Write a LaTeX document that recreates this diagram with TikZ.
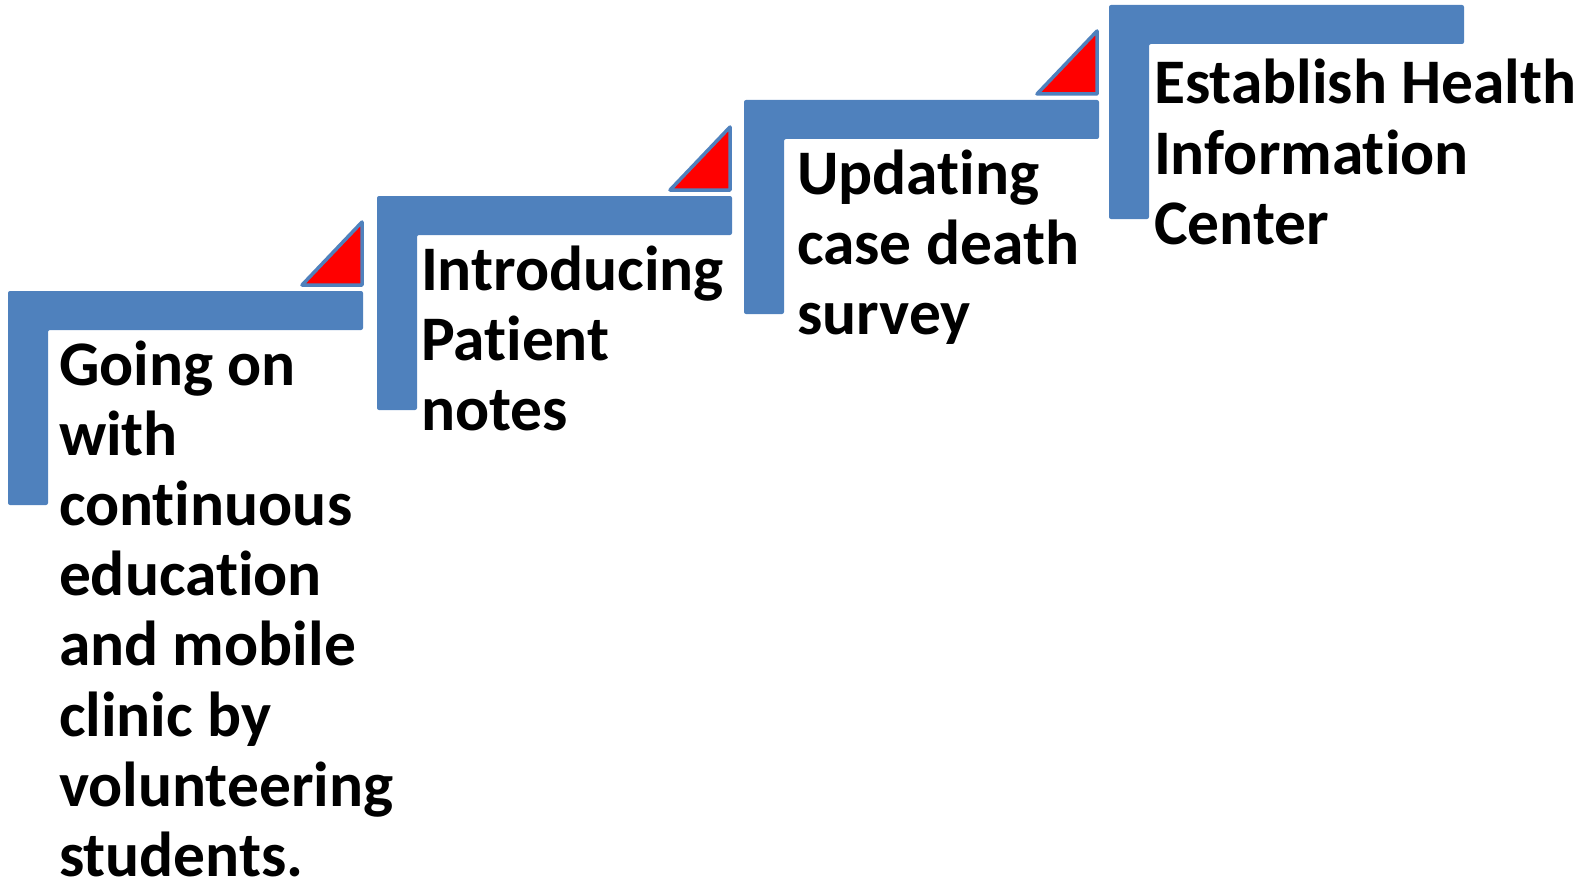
\documentclass[tikz,border=0pt]{standalone}
\usepackage{fontspec}
\setmainfont[Ligatures=NoCommon]{Carlito}
\definecolor{stepblue}{HTML}{4F81BD}
\definecolor{flagred}{HTML}{FF0000}
\tikzset{
  lbar/.style={fill=stepblue, draw=none, rounded corners=2pt},
  flag/.style={fill=flagred, draw=stepblue, line width=3.5pt, line join=round},
  steptext/.style={anchor=base west, inner sep=0pt, outer sep=0pt, font=\fontsize{63.5}{70.2}\selectfont\bfseries}
}
\newcommand{\lshape}[2]{%
  \fill[lbar] (#1,#2) -- ++(355,0) -- ++(0,39) -- ++(-315,0) -- ++(0,175) -- ++(-40,0) -- cycle;}
\newcommand{\flagtri}[2]{% #1 = right x, #2 = bottom y
  \draw[flag] (#1-60,#2) -- (#1,#2) -- (#1,#2-63) -- cycle;}
\begin{document}
\begin{tikzpicture}[x=1pt,y=-1pt]
\useasboundingbox (0,0) rectangle (1587,880);
% steps
\lshape{8}{291}
\lshape{377}{196}
\lshape{744}{100}
\lshape{1109}{5}
% flags
\flagtri{362}{285}
\flagtri{730}{190}
\flagtri{1097}{94}
% texts
\node[steptext] (t1) at (59,385) {\vtop{\hbox{Going on}\hbox{with}\hbox{continuous}\hbox{education}\hbox{and mobile}\hbox{clinic by}\hbox{volunteering}\hbox{students.}}};
\node[steptext] (t2) at (421,290) {\vtop{\hbox{Introducing}\hbox{Patient}\hbox{notes}}};
\node[steptext] (t3) at (797,194) {\vtop{\hbox{Updating}\hbox{case death}\hbox{survey}}};
\node[steptext] (t4) at (1154,104) {\vtop{\hbox{Establish Health}\hbox{Information}\hbox{Center}}};
\end{tikzpicture}
\end{document}
